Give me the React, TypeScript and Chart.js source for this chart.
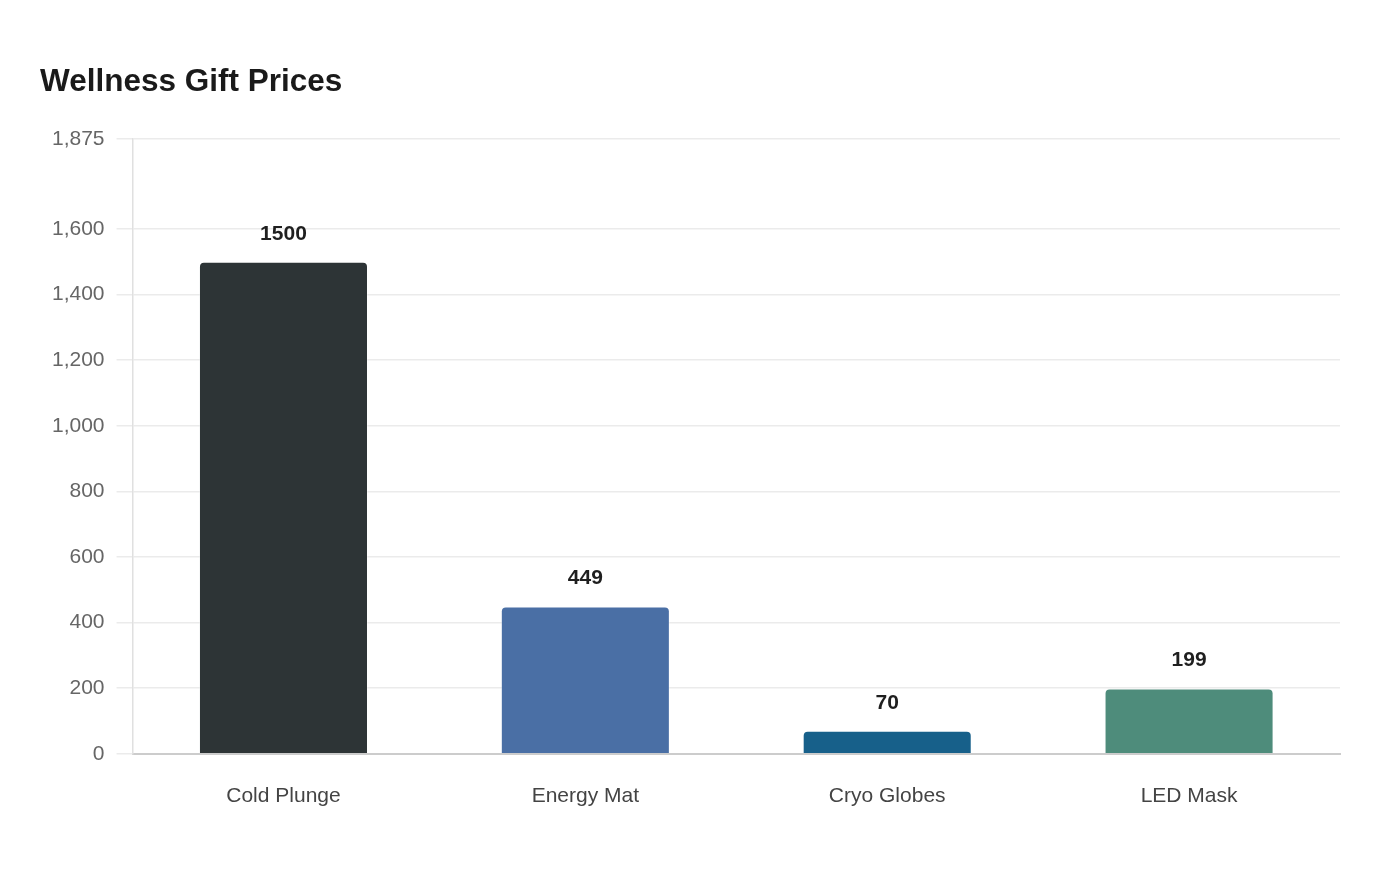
import React, { useEffect, useRef } from "react";
import { Chart, registerables } from "chart.js";

Chart.register(...registerables);

const categories = ["Cold Plunge", "Energy Mat", "Cryo Globes", "LED Mask"];
const prices = [1500, 449, 70, 199];
const barColors = ["#2d3436", "#4a6fa5", "#17608a", "#4e8c7b"];
const yTickValues = [0, 200, 400, 600, 800, 1000, 1200, 1400, 1600, 1875];
const yMax = 1875;

const FONT = "'Liberation Sans', Arial, Helvetica, sans-serif";

// Draws each bar's price above its top edge
const valueLabels = {
  id: "valueLabels",
  afterDatasetsDraw(chart: any) {
    const ctx = chart.ctx;
    const meta = chart.getDatasetMeta(0);
    ctx.save();
    ctx.font = `bold 21px ${FONT}`;
    ctx.fillStyle = "#1f1f1f";
    ctx.textAlign = "center";
    ctx.textBaseline = "middle";
    meta.data.forEach((bar: any, i: number) => {
      ctx.fillText(String(prices[i]), bar.x, bar.y - 28);
    });
    ctx.restore();
  },
};

export default function App() {
  const canvasRef = useRef<HTMLCanvasElement | null>(null);

  useEffect(() => {
    if (!canvasRef.current) return;
    const chart = new Chart(canvasRef.current, {
      type: "bar",
      data: {
        labels: categories,
        datasets: [
          {
            data: prices,
            backgroundColor: barColors,
            borderColor: "rgba(255,255,255,0.35)",
            borderWidth: 1,
            borderRadius: { topLeft: 5, topRight: 5, bottomLeft: 0, bottomRight: 0 },
            borderSkipped: "start",
            barPercentage: 0.8,
            categoryPercentage: 0.7,
          },
        ],
      },
      options: {
        animation: false,
        responsive: true,
        maintainAspectRatio: false,
        layout: { padding: { top: 55, left: 32, right: 52, bottom: 33 } },
        plugins: {
          legend: { display: false },
          tooltip: { enabled: false },
          title: {
            display: true,
            text: "Wellness Gift Prices",
            align: "start",
            color: "#1a1a1a",
            font: { family: FONT, size: 31.5, weight: "bold" },
            padding: { top: 0, bottom: 38 },
          },
        },
        scales: {
          x: {
            grid: { display: false, drawTicks: false },
            border: { color: "#cccccc", width: 2 },
            ticks: {
              color: "#444444",
              font: { family: FONT, size: 21 },
              padding: 30,
            },
          },
          y: {
            min: 0,
            max: yMax,
            afterBuildTicks(axis: any) {
              axis.ticks = yTickValues.map((v) => ({ value: v }));
            },
            grid: { color: "#ebebeb", lineWidth: 1.5, tickLength: 16 },
            border: { color: "#e0e0e0", width: 1.5 },
            ticks: {
              color: "#666666",
              font: { family: FONT, size: 21 },
              padding: 12,
              callback: (v: any) => Number(v).toLocaleString("en-US"),
            },
          },
        },
      },
      plugins: [valueLabels],
    });
    return () => chart.destroy();
  }, []);

  return (
    <div style={{ position: "relative", width: "100%", height: 864 }}>
      <canvas ref={canvasRef} />
    </div>
  );
}
